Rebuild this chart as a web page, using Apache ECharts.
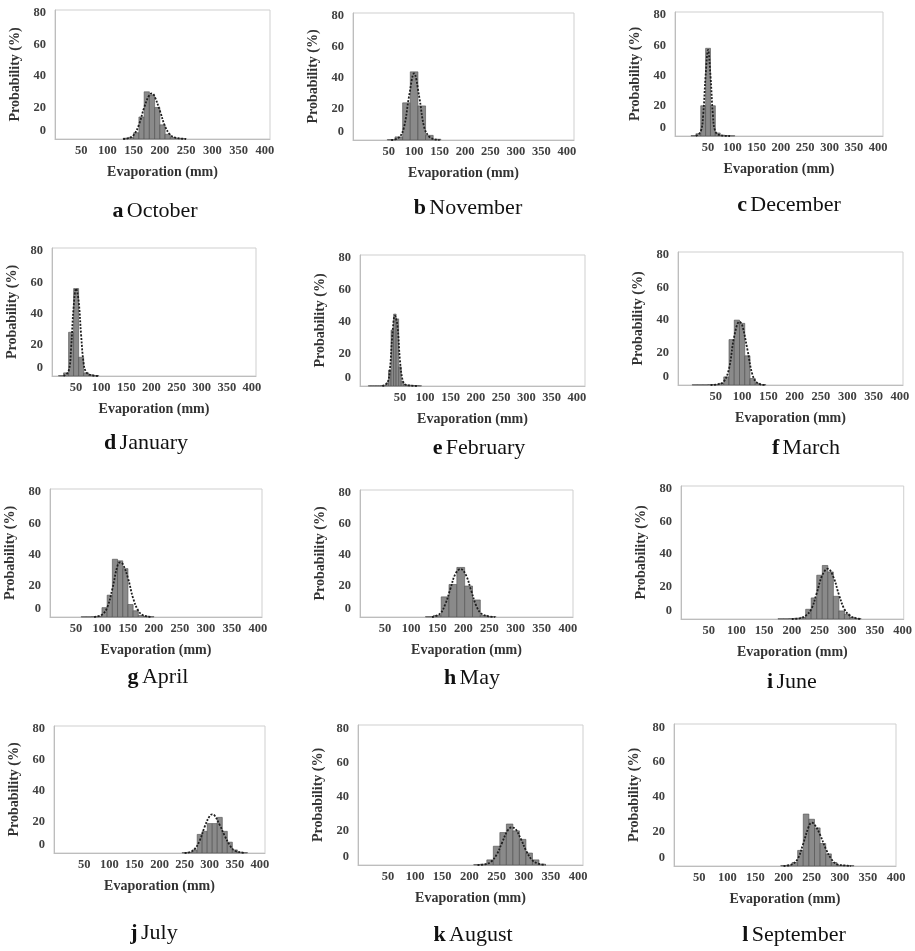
<!DOCTYPE html>
<html>
<head>
<meta charset="utf-8">
<script src="https://cdn.jsdelivr.net/npm/echarts@6/dist/echarts.min.js"></script>
<style>
html, body { margin: 0; background: #fff; }
#chart { width: 915px; height: 951px; }
</style>
</head>
<body>
<div id="chart"></div>
<script>
// panel captions
const letters = ['a', 'b', 'c', 'd', 'e', 'f', 'g', 'h', 'i', 'j', 'k', 'l'];
const months = ['October', 'November', 'December', 'January', 'February', 'March',
                'April', 'May', 'June', 'July', 'August', 'September'];

// tick labels
const xTicks = [50, 100, 150, 200, 250, 300, 350, 400];
const yTicks = [0, 20, 40, 60, 80];

// histogram bin width (mm) per month
const binWidth = [10, 15, 10, 10, 5, 10, 10, 15, 10, 10, 12, 10];

// histograms: [bin centre (mm), probability (%)]
const barsOct = [[135,0.5],[145,1],[155,4],[165,14],[175,30],[185,28],[195,20],[205,9],[215,3],[225,1],[235,0.5],[245,0.3]];
const barsNov = [[55,0.3],[70,2],[85,24],[100,44],[115,22],[130,3],[145,0.5]];
const barsDec = [[20,0.3],[30,1.5],[40,20],[50,58],[60,20],[70,2],[80,0.5],[90,0.3],[100,0.2]];
const barsJan = [[20,0.3],[30,2],[40,28],[50,56],[60,12],[70,2],[80,0.8],[90,0.3]];
const barsFeb = [[-10,0.2],[-5,0.2],[0,0.2],[5,0.2],[10,0.2],[15,0.3],[20,0.5],[25,2],[30,10],[35,35],[40,45],[45,42],[50,12],[55,3],[60,1],[65,0.6],[70,0.5],[75,0.4],[80,0.3],[85,0.3],[90,0.2]];
const barsMar = [[10,0.2],[20,0.2],[30,0.2],[40,0.3],[50,0.3],[60,1],[70,5],[80,28],[90,40],[100,38],[110,18],[120,4],[130,1],[140,0.3]];
const barsApr = [[65,0.2],[75,0.2],[85,0.3],[95,0.5],[105,6],[115,14],[125,37],[135,36],[145,31],[155,8],[165,4],[175,1],[185,0.5],[195,0.3]];
const barsMay = [[135,0.3],[150,1],[165,13],[180,21],[195,32],[210,20],[225,11],[240,1],[255,0.3]];
const barsJun = [[180,0.2],[190,0.2],[200,0.3],[210,0.5],[220,1],[230,6],[240,13],[250,27],[260,33],[270,29],[280,14],[290,5],[300,3],[310,1],[320,0.3]];
const barsJul = [[250,0.3],[260,0.5],[270,2],[280,12],[290,14],[300,19],[310,19],[320,23],[330,14],[340,7],[350,2],[360,0.5],[370,0.3]];
const barsAug = [[214,0.3],[226,0.5],[238,3],[250,11],[262,19],[274,24],[286,20],[298,15],[310,7],[322,3],[334,0.5]];
const barsSep = [[200,0.3],[210,0.5],[220,2],[230,9],[240,30],[250,27],[260,22],[270,13],[280,7],[290,2],[300,0.5],[310,0.3],[320,0.3]];

// fitted curves: [evaporation (mm), probability (%)]
const curveOct = [[130,0],[140,0.5],[150,2.5],[160,9],[170,20],[180,28],[185,29],[190,27],[200,18],[210,8],[220,2.5],[230,0.8],[240,0.3],[250,0]];
const curveNov = [[55,0],[70,1.5],[80,8],[90,28],[100,43],[110,28],[120,8],[130,2],[140,0.5],[150,0]];
const curveDec = [[25,0],[35,3],[40,14],[45,40],[50,57],[55,40],[60,14],[65,3],[75,0.5],[95,0]];
const curveJan = [[25,0],[35,3],[40,18],[45,44],[50,56],[55,48],[60,26],[65,8],[70,2.5],[80,0.5],[95,0]];
const curveFeb = [[15,0],[25,2],[30,10],[35,32],[40,44],[45,38],[50,16],[55,4],[60,1],[70,0.3],[85,0]];
const curveMar = [[40,0],[55,0.5],[65,2],[75,10],[85,30],[95,39],[100,37],[110,22],[120,6],[130,1],[145,0]];
const curveApr = [[85,0],[100,1.5],[110,6],[120,18],[130,33],[135,35],[140,34],[150,25],[160,12],[170,4],[180,1],[195,0]];
const curveMay = [[140,0],[155,2],[165,8],[175,18],[185,28],[195,31],[205,27],[215,17],[225,7],[235,2],[250,0.3],[260,0]];
const curveJun = [[200,0],[215,0.5],[225,2],[235,6],[245,16],[255,27],[265,31],[275,26],[285,15],[295,6],[305,2],[315,0.5],[325,0]];
const curveJul = [[250,0],[260,0.5],[270,2.5],[280,8],[290,17],[300,24],[305,25],[310,24],[320,18],[330,11],[340,5],[350,1.5],[365,0.3],[370,0]];
const curveAug = [[215,0],[230,0.5],[240,2],[250,6],[260,13],[270,20],[278,22],[285,21],[295,15],[305,8],[315,3],[325,1],[340,0]];
const curveSep = [[200,0],[215,1],[225,4],[235,13],[245,23],[250,25],[255,24],[265,18],[275,10],[285,4],[295,1],[310,0.3],[320,0]];

const bars = [barsOct, barsNov, barsDec, barsJan, barsFeb, barsMar, barsApr, barsMay, barsJun, barsJul, barsAug, barsSep];
const curves = [curveOct, curveNov, curveDec, curveJan, curveFeb, curveMar, curveApr, curveMay, curveJun, curveJul, curveAug, curveSep];

// layout of each panel: plot box [left, top, width, height], x range, caption centre
const boxes = [
    [55, 10, 215, 129], [353, 13, 221, 127], [675, 12, 208, 124],
    [52, 248, 204, 128], [360, 255, 225, 131], [678, 252, 225, 133],
    [50, 489, 212, 128], [360, 490, 213, 127], [681, 486, 223, 133],
    [54, 726, 211, 127], [358, 725, 225, 140], [674, 724, 222, 142]
];
const xRange = [
    [0, 410], [-20, 414], [-18, 410],
    [2, 408], [-29, 416], [-22, 406],
    [0, 408], [2, 410], [0, 402],
    [-10, 410], [-5, 409], [5, 400]
];
const captionPos = [
    [155, 211], [468, 208], [789, 205],
    [146, 443], [479, 448], [806, 448],
    [158, 677], [472, 678], [792, 682],
    [154, 933], [473, 935], [794, 935]
];

const serif = '"Liberation Serif", "DejaVu Serif", serif';

const myChart = echarts.init(document.getElementById('chart'), null, { renderer: 'canvas' });

const grid = [], xAxis = [], yAxis = [], series = [], graphic = [];

months.forEach(function (m, i) {
    const b = boxes[i];
    grid.push({
        left: b[0], top: b[1], width: b[2], height: b[3],
        show: true, borderColor: '#cfcfcf', borderWidth: 1
    });
    xAxis.push({
        type: 'value', gridIndex: i,
        min: xRange[i][0], max: xRange[i][1],
        name: 'Evaporation (mm)', nameLocation: 'middle', nameGap: 26,
        nameTextStyle: { fontFamily: serif, fontWeight: 'bold', fontSize: 14, color: '#333' },
        axisLine: { show: true, onZero: false, lineStyle: { color: '#bdbdbd' } },
        axisTick: { show: false },
        splitLine: { show: false },
        axisLabel: {
            customValues: xTicks, margin: 5,
            fontFamily: serif, fontWeight: 'bold', fontSize: 12.5, color: '#404040'
        }
    });
    yAxis.push({
        type: 'value', gridIndex: i,
        min: 0, max: 82,
        name: 'Probability (%)', nameLocation: 'middle', nameGap: 33,
        nameTextStyle: { fontFamily: serif, fontWeight: 'bold', fontSize: 14, color: '#333' },
        axisLine: { show: true, onZero: false, lineStyle: { color: '#bdbdbd' } },
        axisTick: { show: false },
        splitLine: { show: false },
        axisLabel: {
            customValues: yTicks, margin: 9,
            fontFamily: serif, fontWeight: 'bold', fontSize: 12.5, color: '#404040',
            // the zero label sits a little above the baseline in the original
            formatter: function (v) { return v === 0 ? '{z|0}' : String(v); },
            rich: { z: { padding: [0, 0, 16, 0] } }
        }
    });
    const w = binWidth[i];
    series.push({
        type: 'custom', xAxisIndex: i, yAxisIndex: i,
        data: bars[i],
        encode: { x: 0, y: 1 },
        renderItem: function (params, api) {
            const c = api.value(0), v = api.value(1);
            const p0 = api.coord([c - w / 2, 0]);
            const p1 = api.coord([c + w / 2, v]);
            return {
                type: 'rect',
                shape: { x: p0[0], y: p1[1], width: p1[0] - p0[0], height: p0[1] - p1[1] },
                style: { fill: '#8a8a8a', stroke: '#4d4d4d', lineWidth: 0.6 }
            };
        }
    });
    series.push({
        type: 'line', xAxisIndex: i, yAxisIndex: i,
        data: curves[i],
        smooth: 0.4, showSymbol: false,
        lineStyle: { color: '#1e1e1e', width: 1.8, type: [2, 1.5] }
    });
    graphic.push({
        type: 'text',
        x: captionPos[i][0], y: captionPos[i][1],
        style: {
            text: '{b|' + letters[i] + '} {n|' + m + '}',
            align: 'center', verticalAlign: 'middle',
            rich: {
                b: { fontFamily: serif, fontWeight: 'bold', fontSize: 22, fill: '#111' },
                n: { fontFamily: serif, fontSize: 22, fill: '#111' }
            }
        }
    });
});

const option = {
    animation: false,
    grid: grid,
    xAxis: xAxis,
    yAxis: yAxis,
    series: series,
    graphic: graphic
};

myChart.setOption(option);
</script>
</body>
</html>
